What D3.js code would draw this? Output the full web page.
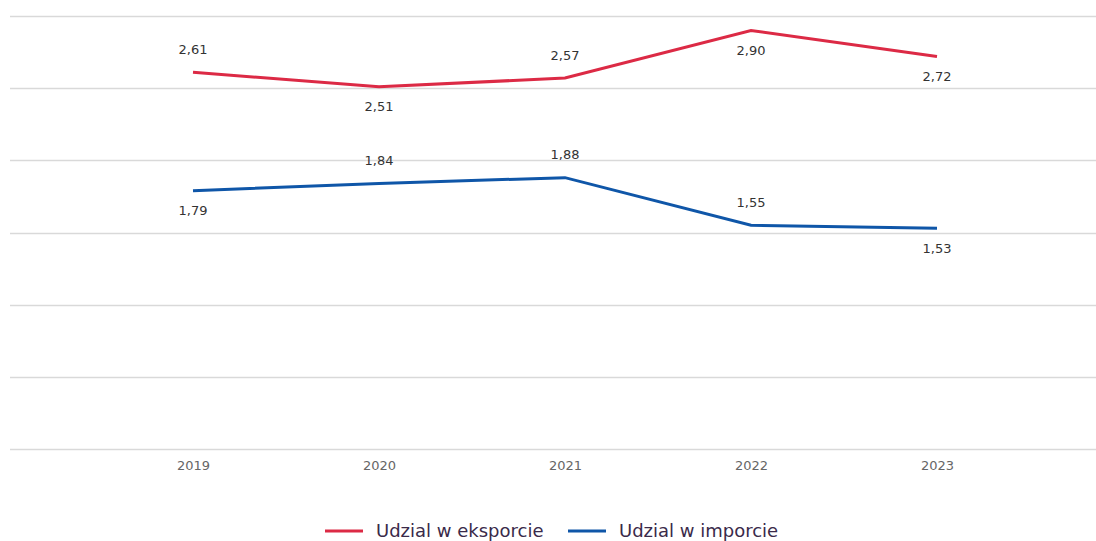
<!DOCTYPE html>
<html>
<head>
<meta charset="utf-8">
<script src="https://cdn.jsdelivr.net/npm/d3@7"></script>
<style>
  html, body { margin: 0; padding: 0; background: #fff; }
  svg { display: block; font-family: "DejaVu Sans", "Open Sans", sans-serif; }
</style>
</head>
<body>
<svg width="1096" height="541"></svg>
<script>
(function () {

  const years = ["2019", "2020", "2021", "2022", "2023"];
  const exportShare = [2.61, 2.51, 2.57, 2.90, 2.72];
  const importShare = [1.79, 1.84, 1.88, 1.55, 1.53];
  // which side of the point each value label sits on
  const exportLabelSide = ["up", "down", "up", "down", "down"];
  const importLabelSide = ["down", "up", "up", "up", "down"];
  const yTicks = [0, 0.5, 1, 1.5, 2, 2.5, 3];

  const series = [
    { name: "Udzial w eksporcie", values: exportShare, sides: exportLabelSide, color: "#dc2a45" },
    { name: "Udzial w imporcie", values: importShare, sides: importLabelSide, color: "#0f56a8" }
  ];

  const svg = d3.select("svg");
  const width = +svg.attr("width");

  const x = d3.scalePoint().domain(years).range([193, 937]);
  const y = d3.scaleLinear().domain([0, 3]).range([449, 16]);

  const fmt = v => d3.format(".2f")(v).replace(".", ",");

  // grid
  svg.append("g")
    .attr("class", "grid")
    .selectAll("line")
    .data(yTicks)
    .enter().append("line")
    .attr("x1", 10)
    .attr("x2", width)
    .attr("y1", d => Math.round(y(d)) + 0.5)
    .attr("y2", d => Math.round(y(d)) + 0.5)
    .attr("stroke", "#d9d9d9")
    .attr("stroke-width", 1.5);

  // x axis labels
  const xAxis = svg.append("g")
    .attr("transform", "translate(0,449)")
    .call(d3.axisBottom(x).tickSize(0).tickPadding(12));
  xAxis.select(".domain").remove();
  xAxis.selectAll("text")
    .attr("font-size", 13)
    .attr("font-family", "\"DejaVu Sans\", sans-serif")
    .attr("fill", "#666");

  const line = d3.line()
    .x((d, i) => x(years[i]))
    .y(d => y(d));

  series.forEach(s => {
    svg.append("path")
      .datum(s.values)
      .attr("fill", "none")
      .attr("stroke", s.color)
      .attr("stroke-width", 3)
      .attr("stroke-linejoin", "miter")
      .attr("d", line);

    svg.append("g")
      .selectAll("text")
      .data(s.values)
      .enter().append("text")
      .attr("x", (d, i) => x(years[i]))
      .attr("y", (d, i) => y(d) + (s.sides[i] === "up" ? -23 : 20))
      .attr("dy", "0.35em")
      .attr("text-anchor", "middle")
      .attr("font-size", 13)
      .attr("fill", "#333")
      .text(fmt);
  });

  // legend
  const legend = svg.append("g").attr("transform", "translate(325,531)");
  const legendX = [0, 243];
  series.forEach((s, i) => {
    const g = legend.append("g").attr("transform", `translate(${legendX[i]},0)`);
    g.append("line")
      .attr("x1", 0).attr("x2", 38)
      .attr("y1", 0).attr("y2", 0)
      .attr("stroke", s.color)
      .attr("stroke-width", 3);
    g.append("text")
      .attr("x", 51)
      .attr("y", 0)
      .attr("dy", "0.35em")
      .attr("font-size", 18)
      .attr("fill", "#3a2a4a")
      .text(s.name);
  });

}());
</script>
</body>
</html>
